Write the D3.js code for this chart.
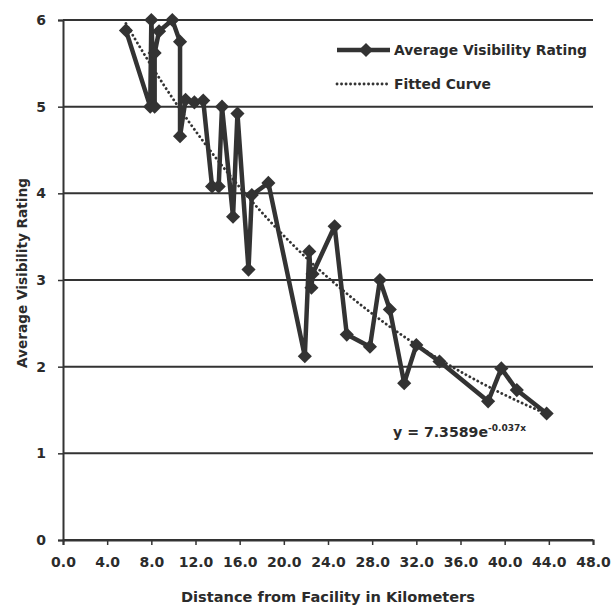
<!DOCTYPE html>
<html>
<head>
<meta charset="utf-8">
<script src="https://cdn.jsdelivr.net/npm/d3@7"></script>
<style>
  html, body { margin: 0; padding: 0; background: #fff; }
  svg { display: block; }
  text { font-family: "DejaVu Sans", sans-serif; font-weight: bold; fill: #2b2b2b; }
</style>
</head>
<body>
<svg id="chart" width="611" height="608"></svg>
<script>
// ---- data ----
const distances = [5.7, 7.9, 8.0, 8.3, 8.3, 8.7, 9.9, 10.6, 10.6, 11.1, 11.9, 12.7, 13.5, 14.1, 14.4, 15.4, 15.8, 16.8, 17.1, 18.6, 21.9, 22.3, 22.5, 22.6, 24.6, 25.7, 27.8, 28.7, 29.6, 30.9, 32.0, 34.1, 38.5, 39.7, 41.1, 43.8];
const ratings   = [5.88, 5.0, 6.0, 5.0, 5.62, 5.87, 6.0, 5.75, 4.66, 5.08, 5.05, 5.07, 4.08, 4.08, 5.0, 3.73, 4.92, 3.12, 3.98, 4.12, 2.12, 3.33, 2.91, 3.07, 3.62, 2.37, 2.23, 3.0, 2.66, 1.81, 2.25, 2.06, 1.6, 1.98, 1.73, 1.46];
const xTicks = [0, 4, 8, 12, 16, 20, 24, 28, 32, 36, 40, 44, 48];
const yTicks = [0, 1, 2, 3, 4, 5, 6];
const fitA = 7.3589;
const fitB = -0.037;
const seriesName = "Average Visibility Rating";
const fitName = "Fitted Curve";
const xTitle = "Distance from Facility in Kilometers";
const yTitle = "Average Visibility Rating";

const ink = "#333333";
const svg = d3.select("#chart");

const x = d3.scaleLinear().domain([0, 48]).range([63, 593]);
const y = d3.scaleLinear().domain([0, 6]).range([540, 20]);

// gridlines
svg.append("g").selectAll("line").data(yTicks).join("line")
  .attr("x1", x(0)).attr("x2", x(48))
  .attr("y1", d => y(d)).attr("y2", d => y(d))
  .attr("stroke", ink).attr("stroke-width", 2);

// y axis
const yAxis = svg.append("g").attr("transform", `translate(${x(0)},0)`)
  .call(d3.axisLeft(y).tickValues(yTicks).tickFormat(d3.format("d")).tickSize(5).tickPadding(12));
yAxis.select(".domain").attr("stroke", ink).attr("stroke-width", 2);
yAxis.selectAll(".tick line").attr("stroke", ink).attr("stroke-width", 1.5);
yAxis.selectAll(".tick text").style("font-size", "14px").attr("fill", "#2b2b2b")
  .style("font-family", "'DejaVu Sans', sans-serif").style("font-weight", "bold");

// x axis
const xAxis = svg.append("g").attr("transform", `translate(0,${y(0)})`)
  .call(d3.axisBottom(x).tickValues(xTicks).tickFormat(d3.format(".1f")).tickSize(5).tickPadding(12));
xAxis.select(".domain").attr("stroke", ink).attr("stroke-width", 2);
xAxis.selectAll(".tick line").attr("stroke", ink).attr("stroke-width", 1.5);
xAxis.selectAll(".tick text").style("font-size", "14px").attr("fill", "#2b2b2b")
  .style("font-family", "'DejaVu Sans', sans-serif").style("font-weight", "bold");

// fitted curve
const xMin = d3.min(distances), xMax = d3.max(distances);
const fitPts = d3.range(0, 101).map(i => {
  const xv = xMin + (xMax - xMin) * i / 100;
  return [xv, fitA * Math.exp(fitB * xv)];
});
const line = d3.line().x(d => x(d[0])).y(d => y(d[1]));
svg.append("path").datum(fitPts).attr("d", line)
  .attr("fill", "none").attr("stroke", ink).attr("stroke-width", 2.8)
  .attr("stroke-dasharray", "0.1 4.4").attr("stroke-linecap", "round");

// series line
const pts = distances.map((d, i) => [d, ratings[i]]);
svg.append("path").datum(pts).attr("d", line)
  .attr("fill", "none").attr("stroke", ink).attr("stroke-width", 4.5)
  .attr("stroke-linejoin", "round");

// markers
const diamond = d3.symbol().type(d3.symbolSquare).size(100);
svg.append("g").selectAll("path").data(pts).join("path")
  .attr("d", diamond)
  .attr("transform", d => `translate(${x(d[0])},${y(d[1])}) rotate(45)`)
  .attr("fill", ink);

// legend
const lg = svg.append("g");
lg.append("line").attr("x1", 337).attr("x2", 390).attr("y1", 50).attr("y2", 50)
  .attr("stroke", ink).attr("stroke-width", 4.5);
lg.append("path").attr("d", diamond)
  .attr("transform", "translate(366,50) rotate(45)").attr("fill", ink);
lg.append("text").attr("x", 394).attr("y", 55).style("font-size", "14px")
  .attr("textLength", 193).attr("lengthAdjust", "spacingAndGlyphs").text(seriesName);
lg.append("line").attr("x1", 337).attr("x2", 388).attr("y1", 84).attr("y2", 84)
  .attr("stroke", ink).attr("stroke-width", 2.8)
  .attr("stroke-dasharray", "0.1 4.4").attr("stroke-linecap", "round");
lg.append("text").attr("x", 394).attr("y", 89).style("font-size", "14px")
  .attr("textLength", 97).attr("lengthAdjust", "spacingAndGlyphs").text(fitName);

// equation
const eq = svg.append("text").attr("x", 393).attr("y", 437).style("font-size", "14px");
eq.append("tspan").attr("textLength", 95).attr("lengthAdjust", "spacingAndGlyphs").text("y = 7.3589e");
eq.append("tspan").attr("dy", -6).style("font-size", "9px").text("-0.037x");

// axis titles
svg.append("text").attr("x", 328).attr("y", 602).attr("text-anchor", "middle")
  .style("font-size", "14px").attr("textLength", 294).attr("lengthAdjust", "spacingAndGlyphs").text(xTitle);
svg.append("text").attr("transform", "translate(27,273) rotate(-90)").attr("text-anchor", "middle")
  .style("font-size", "14px").attr("textLength", 190).attr("lengthAdjust", "spacingAndGlyphs").text(yTitle);
</script>
</body>
</html>
